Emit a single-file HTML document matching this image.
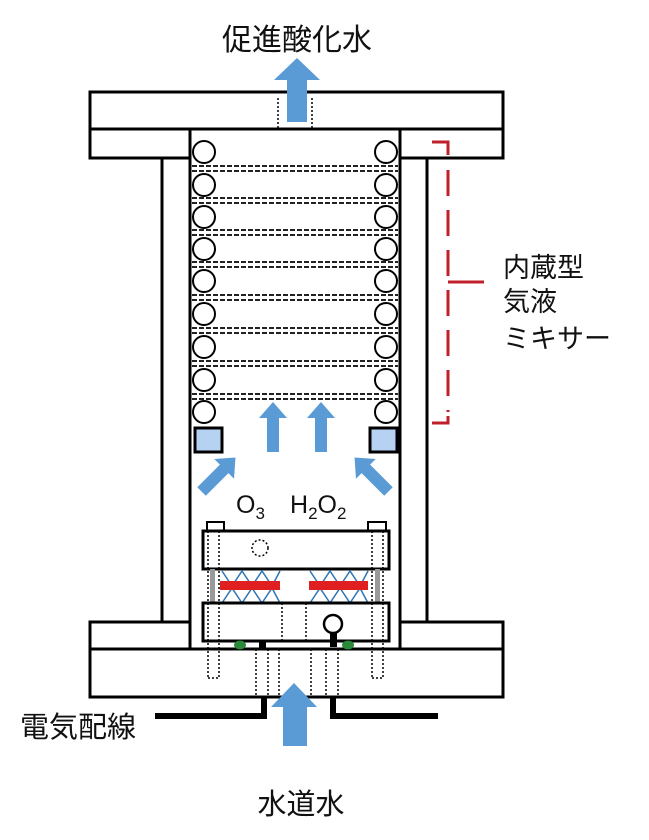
<!DOCTYPE html>
<html><head><meta charset="utf-8"><style>
html,body{margin:0;padding:0;background:#fff;}
svg{display:block;}
text{font-family:"Liberation Sans","Noto Sans CJK JP",sans-serif;fill:#111;}
</style></head><body>
<svg width="649" height="840" viewBox="0 0 649 840" xmlns="http://www.w3.org/2000/svg">
<g stroke="#000" stroke-width="3" fill="#fff">
  <line x1="162" y1="158" x2="162" y2="622"/>
  <line x1="427" y1="158" x2="427" y2="622"/>
  <line x1="190" y1="129" x2="190" y2="649"/>
  <line x1="400" y1="129" x2="400" y2="649"/>
  <rect x="90" y="92" width="413" height="37"/>
  <path d="M90 129 H190 V158 H90 Z"/>
  <path d="M400 129 H503 V158 H400 Z"/>
  <path d="M90 622 H190 V649 H90 Z"/>
  <path d="M400 622 H503 V649 H400 Z"/>
  <rect x="90" y="649" width="413" height="48"/>
</g>
<g stroke="#000" stroke-width="1.5" stroke-dasharray="2,2">
  <line x1="278" y1="98" x2="278" y2="129"/>
  <line x1="312" y1="98" x2="312" y2="129"/>
</g>
<polygon points="297,58 320,80 307,80 307,122 287,122 287,80 274,80" fill="#5b9bd5"/>
<text x="297" y="50" font-size="30" text-anchor="middle">促進酸化水</text>
<g stroke="#000" stroke-width="2" fill="#fff">
  <circle cx="204" cy="152" r="11"/><circle cx="386" cy="152" r="11"/>
  <circle cx="204" cy="185" r="11"/><circle cx="386" cy="185" r="11"/>
  <circle cx="204" cy="217" r="11"/><circle cx="386" cy="217" r="11"/>
  <circle cx="204" cy="249" r="11"/><circle cx="386" cy="249" r="11"/>
  <circle cx="204" cy="281" r="11"/><circle cx="386" cy="281" r="11"/>
  <circle cx="204" cy="314" r="11"/><circle cx="386" cy="314" r="11"/>
  <circle cx="204" cy="347" r="11"/><circle cx="386" cy="347" r="11"/>
  <circle cx="204" cy="380" r="11"/><circle cx="386" cy="380" r="11"/>
  <circle cx="204" cy="412" r="11"/><circle cx="386" cy="412" r="11"/>
</g>
<g stroke="#222" stroke-width="2" stroke-dasharray="5,2">
  <line x1="192" y1="166" x2="398" y2="166"/><line x1="192" y1="171" x2="398" y2="171"/>
  <line x1="192" y1="198" x2="398" y2="198"/><line x1="192" y1="203" x2="398" y2="203"/>
  <line x1="192" y1="230" x2="398" y2="230"/><line x1="192" y1="235" x2="398" y2="235"/>
  <line x1="192" y1="262" x2="398" y2="262"/><line x1="192" y1="267" x2="398" y2="267"/>
  <line x1="192" y1="295" x2="398" y2="295"/><line x1="192" y1="300" x2="398" y2="300"/>
  <line x1="192" y1="328" x2="398" y2="328"/><line x1="192" y1="333" x2="398" y2="333"/>
  <line x1="192" y1="361" x2="398" y2="361"/><line x1="192" y1="366" x2="398" y2="366"/>
  <line x1="192" y1="394" x2="398" y2="394"/><line x1="192" y1="399" x2="398" y2="399"/>
</g>
<rect x="195" y="428" width="27" height="24" fill="#b7d1f2" stroke="#000" stroke-width="3"/>
<rect x="370" y="428" width="27" height="24" fill="#b7d1f2" stroke="#000" stroke-width="3"/>
<g fill="#5b9bd5">
  <polygon points="273,402 287,418 279,418 279,452 267,452 267,418 259,418"/>
  <polygon points="321,402 335,418 327,418 327,452 315,452 315,418 307,418"/>
  <g transform="translate(210,483) rotate(45)"><polygon points="0,-36 14,-20 6,-20 6,12 -6,12 -6,-20 -14,-20"/></g>
  <g transform="translate(380,483) rotate(-45)"><polygon points="0,-36 14,-20 6,-20 6,12 -6,12 -6,-20 -14,-20"/></g>
</g>
<text x="236" y="513" font-size="25">O<tspan font-size="17" dy="6">3</tspan></text>
<text x="290" y="513" font-size="25">H<tspan font-size="17" dy="6">2</tspan><tspan dy="-6">O</tspan><tspan font-size="17" dy="6">2</tspan></text>
<rect x="207" y="522" width="17" height="9" fill="#fff" stroke="#000" stroke-width="2"/>
<rect x="368" y="522" width="18" height="9" fill="#fff" stroke="#000" stroke-width="2"/>
<rect x="203" y="531" width="186" height="38" fill="#fff" stroke="#000" stroke-width="3"/>
<circle cx="260" cy="548" r="8" fill="none" stroke="#000" stroke-width="1.5" stroke-dasharray="2,2"/>
<rect x="210" y="569" width="5" height="34" fill="#999"/>
<rect x="375" y="569" width="5" height="34" fill="#999"/>
<g stroke="#2e75b6" stroke-width="1.5" fill="none">
  <polyline points="222,603 232,588 242,603 252,588 262,603 272,588 280,603"/>
  <polyline points="222,571 232,586 242,571 252,586 262,571 272,586 280,571"/>
  <polyline points="310,603 320,588 330,603 340,588 350,603 360,588 368,603"/>
  <polyline points="310,571 320,586 330,571 340,586 350,571 360,586 368,571"/>
</g>
<rect x="220" y="581" width="60" height="9" fill="#e02020"/>
<rect x="309" y="581" width="59" height="9" fill="#e02020"/>
<rect x="203" y="603" width="186" height="38" fill="#fff" stroke="#000" stroke-width="3"/>
<circle cx="333" cy="624" r="9" fill="#fff" stroke="#000" stroke-width="2.5"/>
<rect x="330" y="633" width="7" height="14" fill="#000"/>
<rect x="259" y="641" width="7" height="8" fill="#000"/>
<ellipse cx="240" cy="645" rx="6" ry="4.5" fill="#2a8a3a"/>
<ellipse cx="348" cy="645" rx="6" ry="4.5" fill="#2a8a3a"/>
<g stroke="#000" stroke-width="1.5" stroke-dasharray="2,2" fill="none">
  <line x1="208" y1="531" x2="208" y2="678"/><line x1="219" y1="531" x2="219" y2="678"/>
  <line x1="372" y1="531" x2="372" y2="678"/><line x1="383" y1="531" x2="383" y2="678"/>
  <line x1="208" y1="678" x2="219" y2="678"/><line x1="372" y1="678" x2="383" y2="678"/>
  <line x1="256" y1="649" x2="256" y2="697"/><line x1="268" y1="649" x2="268" y2="697"/>
  <line x1="279" y1="649" x2="279" y2="697"/>
  <line x1="282" y1="603" x2="282" y2="641"/><line x1="306" y1="603" x2="306" y2="641"/>
  <line x1="311" y1="649" x2="311" y2="697"/><line x1="326" y1="649" x2="326" y2="697"/>
  <line x1="338" y1="649" x2="338" y2="697"/>
</g>
<polyline points="155,716 264,716 264,697" fill="none" stroke="#000" stroke-width="6"/>
<polyline points="333,697 333,716 438,716" fill="none" stroke="#000" stroke-width="6"/>
<polygon points="294,683 317,707 307,707 307,746 283,746 283,707 271,707" fill="#5b9bd5"/>
<text x="20" y="737" font-size="29">電気配線</text>
<text x="301" y="814" font-size="29" text-anchor="middle">水道水</text>
<g stroke="#c0202a" stroke-width="3" fill="none">
  <polyline points="432,142 448,142 448,155"/>
  <line x1="448" y1="170" x2="448" y2="412" stroke-dasharray="26,14"/>
  <line x1="448" y1="282" x2="484" y2="282"/>
  <polyline points="448,416 448,423 432,423"/>
</g>
<text x="503" y="277" font-size="27">内蔵型</text>
<text x="503" y="311" font-size="27">気液</text>
<text x="503" y="348" font-size="27">ミキサー</text>
</svg>
</body></html>
